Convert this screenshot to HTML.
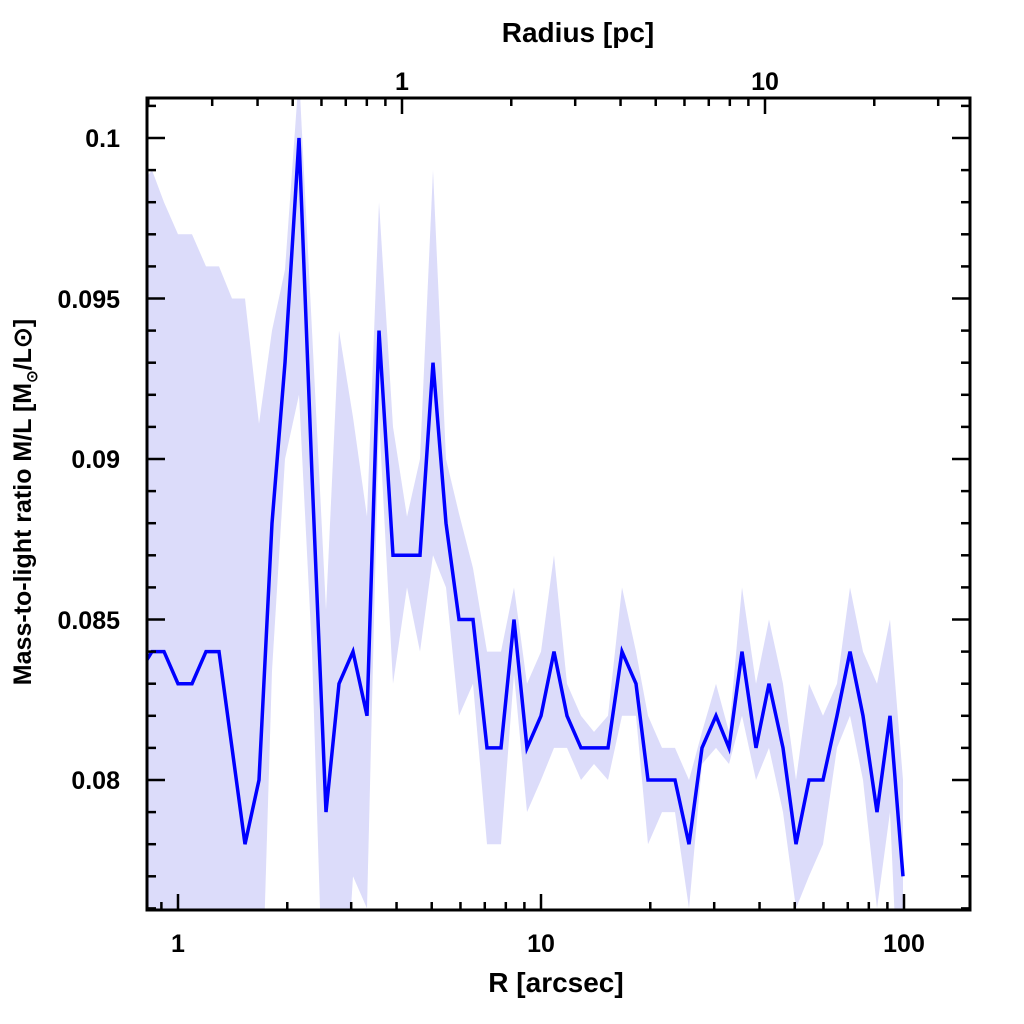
<!DOCTYPE html>
<html><head><meta charset="utf-8"><style>
html,body{margin:0;padding:0;background:#fff;width:1024px;height:1024px;overflow:hidden;}
svg{display:block;}
text{font-family:"Liberation Sans",sans-serif;font-weight:bold;fill:#000;}
</style></head><body>
<svg id="s" width="1024" height="1024" viewBox="0 0 1024 1024" xmlns="http://www.w3.org/2000/svg">
<defs><clipPath id="c"><rect x="147" y="98" width="823" height="812"/></clipPath></defs>
<g clip-path="url(#c)">
<path id="band" fill="#dcdcfa" stroke="none"/>
<polyline id="line" fill="none" stroke="#0000ff" stroke-width="3.5" stroke-linejoin="miter"/>
</g>
<g id="ticks" stroke="#000" stroke-width="2.5"></g>
<rect x="147" y="98" width="823" height="812" fill="none" stroke="#000" stroke-width="3"/>
<g font-size="25">
<text x="120" y="147" text-anchor="end">0.1</text>
<text x="120" y="308" text-anchor="end">0.095</text>
<text x="120" y="468" text-anchor="end">0.09</text>
<text x="120" y="629" text-anchor="end">0.085</text>
<text x="120" y="789" text-anchor="end">0.08</text>
<text x="178" y="952" text-anchor="middle">1</text>
<text x="541" y="952" text-anchor="middle">10</text>
<text x="904" y="952" text-anchor="middle">100</text>
<text x="402" y="90" text-anchor="middle">1</text>
<text x="765" y="90" text-anchor="middle">10</text>
</g>
<text x="556" y="992" text-anchor="middle" font-size="28">R [arcsec]</text>
<text x="578" y="42" text-anchor="middle" font-size="28">Radius [pc]</text>
<text transform="translate(31,502) rotate(-90)" text-anchor="middle" font-size="25">Mass-to-light ratio M/L [M<tspan font-size="15" dy="6">⊙</tspan><tspan dy="-6">/L⊙]</tspan></text>
</svg>
<script>
var D=[[140,.0834,.0985,.07],[152,.084,.099,.07],[164,.084,.098,.07],[178,.083,.097,.07],[192,.083,.097,.07],[206,.084,.096,.07],[219,.084,.096,.07],[232,.081,.095,.07],[245,.078,.095,.07],[259,.080,.0911,.07],[272,.088,.094,.0834],[285,.093,.0959,.090],[299,.100,.102,.092],[312,.0895,.094,.084],[326,.079,.0853,.07],[339,.083,.094,.07],[353,.084,.0913,.077],[367,.082,.0882,.076],[379,.094,.098,.0913],[393,.087,.091,.083],[407,.087,.0882,.086],[420,.087,.090,.084],[433,.093,.099,.087],[446,.088,.090,.086],[459,.085,.0883,.082],[473,.085,.0866,.083],[487,.081,.084,.078],[501,.081,.084,.078],[514,.085,.086,.0833],[527,.081,.083,.079],[541,.082,.084,.080],[554,.084,.087,.081],[567,.082,.083,.081],[581,.081,.082,.080],[594,.081,.0815,.0805],[608,.081,.082,.080],[622,.084,.086,.082],[636,.083,.084,.082],[648,.080,.082,.078],[662,.080,.081,.079],[675,.080,.081,.079],[689,.078,.080,.076],[702,.081,.0815,.0805],[716,.082,.083,.081],[729,.081,.0815,.0805],[742,.084,.086,.082],[756,.081,.083,.080],[769,.083,.085,.081],[783,.081,.083,.079],[796,.078,.080,.076],[809,.080,.083,.077],[823,.080,.082,.078],[837,.082,.083,.081],[850,.084,.086,.082],[863,.082,.084,.080],[877,.079,.083,.076],[890,.082,.085,.079],[903,.077,.080,.07]];
function Y(v){return 138+(0.1-v)*32100;}
var up=D.map(function(d){return d[0]+','+Y(d[2]).toFixed(1)});
var lo=D.slice().reverse().map(function(d){return d[0]+','+Y(d[3]).toFixed(1)});
document.getElementById('band').setAttribute('d','M'+up.join(' L')+' L'+lo.join(' L')+' Z');
document.getElementById('line').setAttribute('points',D.map(function(d){return d[0]+','+Y(d[1]).toFixed(1)}).join(' '));
var g=document.getElementById('ticks'),h='';
function L(x1,y1,x2,y2){h+='<line x1="'+x1+'" y1="'+y1+'" x2="'+x2+'" y2="'+y2+'"/>';}
for(var e=-1;e<=2;e++)for(var m=1;m<10;m++){var x=178+363*(e+Math.log10(m));if(x<=148||x>=969)continue;var len=m==1?16:8;L(x,910,x,910-len);}
for(var e=-1;e<=2;e++)for(var m=1;m<10;m++){var x=402+363*(e+Math.log10(m));if(x<=148||x>=969)continue;var len=m==1?16:8;L(x,98,x,98+len);}
for(var i=0;i<=30;i++){var v=0.076+i*0.001;var y=Y(v);if(y<99||y>909)continue;var maj=(Math.round(v*1000)%5==0);var len=maj?18:9;L(147,y,147+len,y);L(970,y,970-len,y);}
g.innerHTML=h;
</script>
</body></html>
